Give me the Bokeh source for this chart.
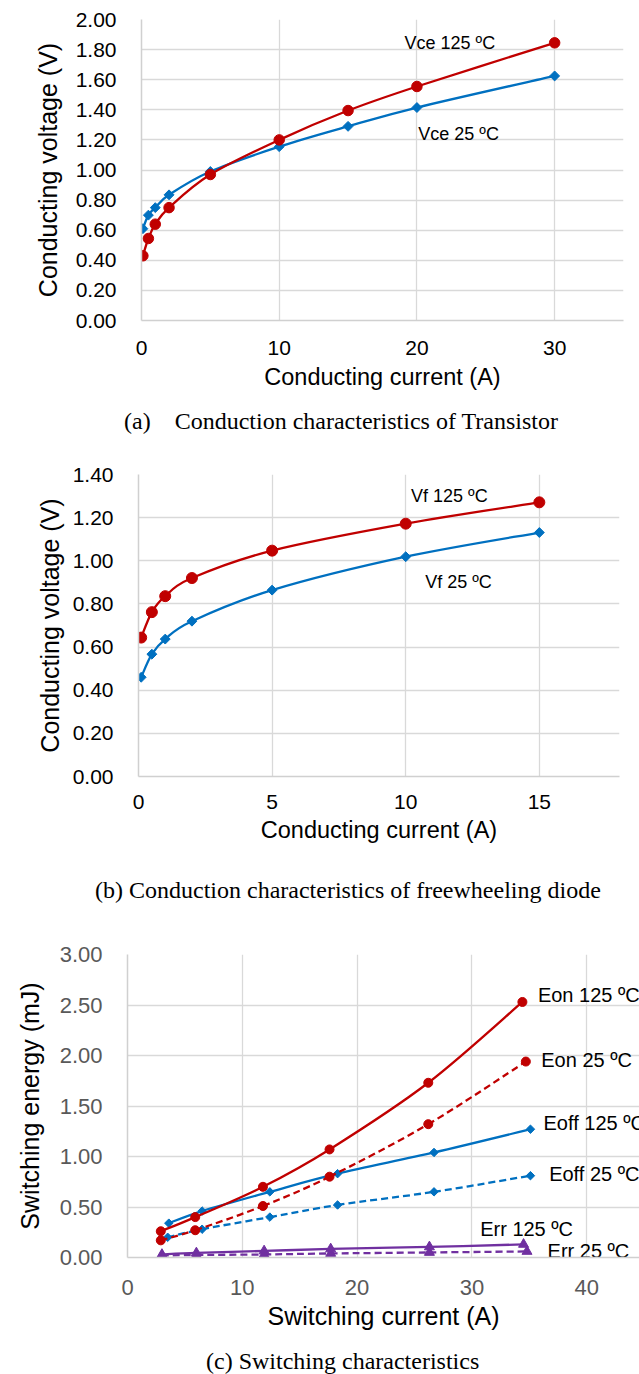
import numpy as np
from bokeh.plotting import figure
from bokeh.models import Range1d, FixedTicker, PrintfTickFormatter, ColumnDataSource, Div
from bokeh.core.properties import value
from bokeh.embed import file_html
from bokeh.resources import INLINE

# ---------------- data ----------------
# (a) transistor conduction
a_current = [0.1, 0.5, 1, 2, 5, 10, 15, 20, 30]
a_vce25 = [0.61, 0.70, 0.75, 0.835, 0.99, 1.155, 1.29, 1.415, 1.625]
a_vce125 = [0.43, 0.545, 0.64, 0.75, 0.97, 1.20, 1.395, 1.555, 1.845]
a_xticks = [0, 10, 20, 30]
a_yticks = [0, 0.2, 0.4, 0.6, 0.8, 1.0, 1.2, 1.4, 1.6, 1.8, 2.0]
a_labels = ["Vce 125 ºC", "Vce 25 ºC"]
a_label_x = [19.1, 20.1]
a_label_y = [1.843, 1.236]

# (b) diode conduction
b_current = [0.1, 0.5, 1, 2, 5, 10, 15]
b_vf25 = [0.46, 0.567, 0.637, 0.72, 0.864, 1.019, 1.131]
b_vf125 = [0.644, 0.762, 0.836, 0.92, 1.047, 1.172, 1.271]
b_xticks = [0, 5, 10, 15]
b_yticks = [0, 0.2, 0.4, 0.6, 0.8, 1.0, 1.2, 1.4]
b_labels = ["Vf 125 ºC", "Vf 25 ºC"]
b_label_x = [10.2, 10.73]
b_label_y = [1.30, 0.901]

# (c) switching energy
c_eon125_i = [2.9, 5.9, 11.8, 17.6, 26.2, 34.4]
c_eon125 = [0.26, 0.40, 0.70, 1.07, 1.73, 2.53]
c_eon25_i = [2.9, 5.9, 11.8, 17.6, 26.2, 34.7]
c_eon25 = [0.17, 0.27, 0.51, 0.80, 1.32, 1.94]
c_eoff125_i = [3.6, 6.5, 12.4, 18.3, 26.7, 35.1]
c_eoff125 = [0.34, 0.46, 0.65, 0.83, 1.04, 1.27]
c_eoff25_i = [3.5, 6.5, 12.4, 18.3, 26.7, 35.1]
c_eoff25 = [0.20, 0.28, 0.40, 0.52, 0.65, 0.81]
c_err125_i = [3.0, 6.0, 11.9, 17.7, 26.3, 34.5]
c_err125 = [0.03, 0.045, 0.065, 0.085, 0.105, 0.13]
c_err25_i = [3.0, 6.0, 11.9, 17.7, 26.3, 34.8]
c_err25 = [0.02, 0.025, 0.03, 0.04, 0.05, 0.06]
c_xticks = [0, 10, 20, 30, 40]
c_yticks = [0, 0.5, 1.0, 1.5, 2.0, 2.5, 3.0]
c_labels = ["Eon 125 ºC", "Eon 25 ºC", "Eoff 125 ºC", "Eoff 25 ºC", "Err 125 ºC", "Err 25 ºC"]
c_label_x = [35.75, 36.04, 36.24, 36.73, 30.72, 36.59]
c_label_y = [2.596, 1.956, 1.336, 0.826, 0.282, 0.06]

captions = [
    "(a)&nbsp;&nbsp;&nbsp;&nbsp;Conduction characteristics of Transistor",
    "(b) Conduction characteristics of freewheeling diode",
    "(c) Switching characteristics",
]

RED = "#C00000"
BLUE = "#0070C0"
PURPLE = "#7030A0"
GRID = "#D9D9D9"
SANS = "Liberation Sans"
W = 639


def smooth_source(xs, ys, t=1.0 / 6.0):
    n = len(xs)
    d = dict(x0=[], y0=[], x1=[], y1=[], cx0=[], cy0=[], cx1=[], cy1=[])
    for i in range(n - 1):
        xm, ym = (xs[i - 1], ys[i - 1]) if i > 0 else (xs[i], ys[i])
        xp, yp = (xs[i + 2], ys[i + 2]) if i + 2 < n else (xs[i + 1], ys[i + 1])
        d["x0"].append(xs[i]); d["y0"].append(ys[i])
        d["x1"].append(xs[i + 1]); d["y1"].append(ys[i + 1])
        d["cx0"].append(xs[i] + (xs[i + 1] - xm) * t)
        d["cy0"].append(ys[i] + (ys[i + 1] - ym) * t)
        d["cx1"].append(xs[i + 1] - (xp - xs[i]) * t)
        d["cy1"].append(ys[i + 1] - (yp - ys[i]) * t)
    return ColumnDataSource(d)


def series(p, xs, ys, color, marker, size, dash="solid", lw=2.3):
    p.bezier(x0="x0", y0="y0", x1="x1", y1="y1", cx0="cx0", cy0="cy0", cx1="cx1", cy1="cy1",
             source=smooth_source(xs, ys), line_color=color, line_width=lw, line_dash=dash)
    src = ColumnDataSource(dict(x=xs, y=ys))
    if marker == "diamond":
        p.scatter("x", "y", source=src, marker="square", angle=np.pi / 4, size=size,
                  fill_color=color, line_color=color)
    else:
        p.scatter("x", "y", source=src, marker=marker, size=size,
                  fill_color=color, line_color=color)


def make_fig(height, borders, xr, yr, xticks, yticks, xtitle, ytitle,
             tick_size, tick_color, xtitle_size, ytitle_size, ystand, xstand, ytstand, xtstand):
    p = figure(width=W, height=height, output_backend="svg", toolbar_location=None,
               x_range=Range1d(*xr), y_range=Range1d(*yr),
               min_border_left=borders[0], min_border_right=borders[1],
               min_border_top=borders[2], min_border_bottom=borders[3])
    p.outline_line_color = None
    p.background_fill_color = "white"
    p.border_fill_color = "white"
    for ax in (p.xaxis[0], p.yaxis[0]):
        ax.major_tick_in = 0
        ax.major_tick_out = 0
        ax.minor_tick_line_color = None
        ax.axis_line_color = "#D0D0D0"
        ax.axis_line_width = 1.5
        ax.major_label_text_font = SANS
        ax.major_label_text_font_size = tick_size
        ax.major_label_text_color = tick_color
        ax.axis_label_text_font = SANS
        ax.axis_label_text_font_style = "normal"
        ax.axis_label_text_color = "black"
    p.xaxis[0].axis_label_text_font_size = xtitle_size
    p.yaxis[0].axis_label_text_font_size = ytitle_size
    p.xaxis[0].ticker = FixedTicker(ticks=xticks)
    p.yaxis[0].ticker = FixedTicker(ticks=yticks)
    p.yaxis[0].formatter = PrintfTickFormatter(format="%.2f")
    p.xaxis[0].axis_label = xtitle
    p.yaxis[0].axis_label = ytitle
    p.yaxis[0].major_label_standoff = ystand
    p.xaxis[0].major_label_standoff = xstand
    p.yaxis[0].axis_label_standoff = ytstand
    p.xaxis[0].axis_label_standoff = xtstand
    p.xgrid[0].grid_line_color = GRID
    p.ygrid[0].grid_line_color = GRID
    p.xgrid[0].grid_line_width = 1.3
    p.ygrid[0].grid_line_width = 1.3
    return p


def add_labels(p, texts, xs, ys, size):
    src = ColumnDataSource(dict(x=xs, y=ys, text=texts))
    p.text(x="x", y="y", text="text", source=src, text_font=value(SANS),
           text_font_size=size, text_align="left", text_baseline="middle", text_color="black")


def caption_div(text, height, left, top):
    html = ('<div style="margin:0; padding:%dpx 0 0 %dpx; font-family:\'Liberation Serif\', serif; '
            'font-size:24px; line-height:24px; white-space:nowrap; color:#000;">%s</div>'
            % (top, left, text))
    return Div(text=html, width=W, height=height, margin=0)


# ---------- (a) ----------  page 0..400
pa = make_fig(400, (141, 16, 19, 80), (0, 35), (0, 2), a_xticks, a_yticks,
              "Conducting current (A)", "Conducting voltage (V)",
              "21px", "black", "23.5px", "25px", 25, 20, 11, 6)
series(pa, a_current, a_vce25, BLUE, "diamond", 7)
series(pa, a_current, a_vce125, RED, "circle", 10.5)
add_labels(pa, a_labels, a_label_x, a_label_y, "18px")
da = caption_div(captions[0], 50, 124, 9)

# ---------- (b) ----------  page 450..860
pb = make_fig(410, (138, 20, 24, 84), (0, 18), (0, 1.4), b_xticks, b_yticks,
              "Conducting current (A)", "Conducting voltage (V)",
              "21px", "black", "23.5px", "25px", 25, 18, 6, 5)
series(pb, b_current, b_vf25, BLUE, "diamond", 7)
series(pb, b_current, b_vf125, RED, "circle", 11)
add_labels(pb, b_labels, b_label_x, b_label_y, "18px")
db = caption_div(captions[1], 65, 95, 18)

# ---------- (c) ----------  page 925..1340
pc = make_fig(415, (127, 0, 29, 83), (0, 44.6), (0, 3), c_xticks, c_yticks,
              "Switching current (A)", "Switching energy (mJ)",
              "22px", "#595959", "25px", "25px", 25, 22, 13, 4)
series(pc, c_err25_i, c_err25, PURPLE, "triangle", 10, dash="7 4")
series(pc, c_err125_i, c_err125, PURPLE, "triangle", 10)
series(pc, c_eoff25_i, c_eoff25, BLUE, "diamond", 6, dash="7 4")
series(pc, c_eoff125_i, c_eoff125, BLUE, "diamond", 6)
series(pc, c_eon25_i, c_eon25, RED, "circle", 9, dash="7 4")
series(pc, c_eon125_i, c_eon125, RED, "circle", 9)
add_labels(pc, c_labels, c_label_x, c_label_y, "20px")
dc = caption_div(captions[2], 34, 206, 9)

p = [pa, da, pb, db, pc, dc]
open("out.html", "w").write(file_html(p, INLINE))
